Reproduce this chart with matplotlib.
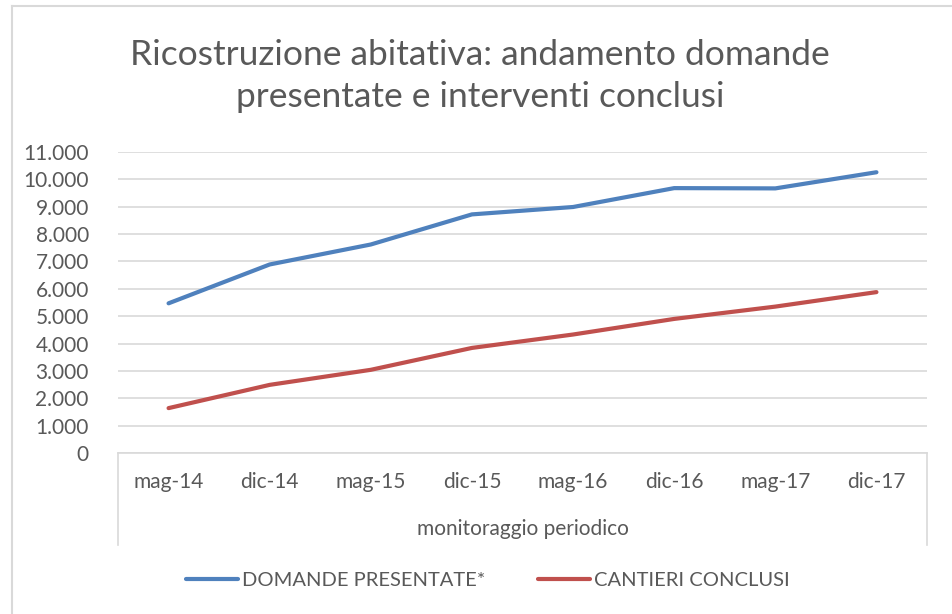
import matplotlib
matplotlib.use("Agg")
import matplotlib.pyplot as plt
from matplotlib.lines import Line2D
from matplotlib.ticker import FuncFormatter, MultipleLocator

# Survey periods and the two tracked series
periods = ["mag-14", "dic-14", "mag-15", "dic-15", "mag-16", "dic-16", "mag-17", "dic-17"]
domande_presentate = [5470, 6890, 7620, 8720, 8990, 9680, 9670, 10260]
cantieri_conclusi = [1640, 2490, 3040, 3840, 4330, 4900, 5350, 5880]

title = "Ricostruzione abitativa: andamento domande\npresentate e interventi conclusi"
xlabel = "monitoraggio periodico"
labels = ["DOMANDE PRESENTATE*", "CANTIERI CONCLUSI"]

BLUE = "#4f81bd"
RED = "#c0504d"
TEXT = "#595959"
GRID = "#d9d9d9"

plt.rcParams["font.family"] = ["Lato", "DejaVu Sans"]

W, H = 953, 614
fig = plt.figure(figsize=(W / 100, H / 100), dpi=100)
fig.patch.set_facecolor("white")

# plot area in pixel coordinates
left, right, top, bottom = 118, 927, 152, 453
ax = fig.add_axes([left / W, 1 - bottom / H, (right - left) / W, (bottom - top) / H])

x = list(range(len(periods)))
ax.plot(x, domande_presentate, color=BLUE, lw=3.0, solid_capstyle="round", solid_joinstyle="round")
ax.plot(x, cantieri_conclusi, color=RED, lw=3.0, solid_capstyle="round", solid_joinstyle="round")

ax.set_xlim(-0.5, len(periods) - 0.5)
ax.set_ylim(0, 11000)
ax.yaxis.set_major_locator(MultipleLocator(1000))
ax.yaxis.set_major_formatter(FuncFormatter(lambda v, p: f"{int(v):,}".replace(",", ".")))
ax.grid(axis="y", color=GRID, lw=1.2)
ax.set_axisbelow(True)
for s in ("top", "right", "left"):
    ax.spines[s].set_visible(False)
ax.spines["bottom"].set_color(GRID)
ax.spines["bottom"].set_linewidth(1.2)
ax.set_xticks(x)
ax.set_xticklabels(periods)
ax.tick_params(axis="x", length=0, pad=14, labelsize=15, labelcolor=TEXT)
ax.tick_params(axis="y", length=0, pad=21, labelsize=15, labelcolor=TEXT)

# category box below the plot area
box_bottom = 545
for px in (left, right):
    fig.add_artist(Line2D([px / W, px / W], [1 - bottom / H, 1 - box_bottom / H],
                          color=GRID, lw=1.2, transform=fig.transFigure))

ax.set_xlabel(xlabel, fontsize=15, color=TEXT, labelpad=19)

# chart title
fig.text(480 / W, 1 - 76 / H, title, ha="center", va="center", fontsize=25.5,
         color=TEXT, linespacing=1.42)

# legend
handles = [Line2D([0], [0], color=BLUE, lw=3.0, solid_capstyle="round"),
           Line2D([0], [0], color=RED, lw=3.0, solid_capstyle="round")]
fig.legend(handles, labels, loc="center", bbox_to_anchor=(488 / W, 1 - 580 / H), ncol=2,
           frameon=False, fontsize=14.5, labelcolor=TEXT, handlelength=2.6,
           handletextpad=0.2, columnspacing=2.6)

# outer chart frame
fig.add_artist(Line2D([12 / W, 12 / W], [0, 1 - 6 / H], color=GRID, lw=1.5, transform=fig.transFigure))
fig.add_artist(Line2D([12 / W, 1], [1 - 6 / H, 1 - 6 / H], color=GRID, lw=1.5, transform=fig.transFigure))

fig.savefig("out.png", dpi=100, facecolor="white")
